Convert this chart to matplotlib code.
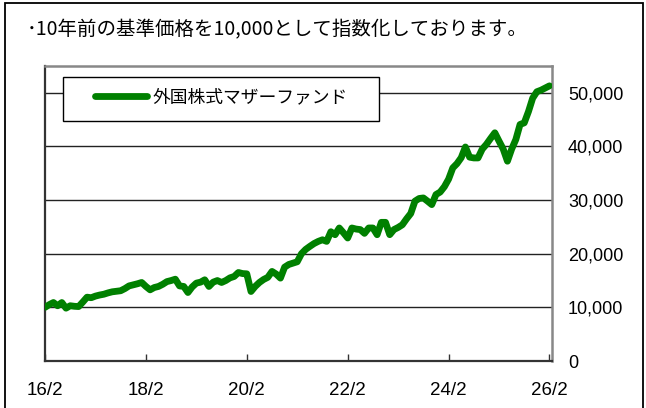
import matplotlib
matplotlib.use("Agg")
import matplotlib.pyplot as plt
from matplotlib.patches import Rectangle
from matplotlib.ticker import FuncFormatter

# ---- data (monthly index, Feb 2016 = month 0) ----
series_name = "外国株式マザーファンド"
title_text = "･10年前の基準価格を10,000として指数化しております。"
values = [
    10000, 10500, 10900, 10300, 10900, 9850, 10300, 10200, 10150, 11000,
    11900, 11800, 12100, 12300, 12450, 12700, 12900, 13000, 13100, 13500,
    14000, 14200, 14400, 14640, 13900, 13270, 13700, 13900, 14300, 14800,
    15000, 15250, 14000, 13900, 12770, 13800, 14520, 14700, 15140, 13900,
    14700, 15000, 14640, 15000, 15500, 15760, 16500, 16300, 16250, 12960,
    13900, 14640, 15200, 15600, 16700, 16200, 15450, 17500, 18000, 18250,
    18500, 20000, 20800, 21370, 21900, 22300, 22600, 22300, 24100, 23550,
    24800, 23900, 22930, 24800, 24600, 24500, 23800, 24800, 24800, 23550,
    25850, 25850, 23550, 24500, 24900, 25400, 26500, 27500, 29800, 30300,
    30400, 29800, 29160, 31030, 31500, 32500, 33900, 36000, 36800, 37900,
    39900, 38000, 37860, 37860, 39500, 40400, 41500, 42550, 41000, 39500,
    37250, 39500, 41300, 44100, 44400, 46500, 49000, 50200, 50500, 50900,
    51300,
]
months = list(range(len(values)))
xtick_pos = [0, 24, 48, 72, 96, 120]
xtick_labels = ["16/2", "18/2", "20/2", "22/2", "24/2", "26/2"]
ytick_pos = [0, 10000, 20000, 30000, 40000, 50000]

W, H = 646, 408
fig = plt.figure(figsize=(W / 100, H / 100), dpi=100)
fig.patch.set_facecolor("white")

# outer frame
frame = Rectangle((5 / W, -0.05), (643 - 5) / W, (408 - 3) / H + 0.05,
                  transform=fig.transFigure, fill=False, edgecolor="black",
                  linewidth=1.3, clip_on=False)
fig.patches.append(frame)

ax_l, ax_r, ax_t, ax_b = 45, 552, 66, 361
ax = fig.add_axes([ax_l / W, (H - ax_b) / H, (ax_r - ax_l) / W, (ax_b - ax_t) / H])

ax.plot(months, values, color="#008000", linewidth=4.9,
        solid_joinstyle="round", solid_capstyle="round", zorder=3,
        label=series_name)

ax.set_xlim(0, 120.6)
ax.set_ylim(0, 55000)

ax.set_xticks(xtick_pos)
ax.set_xticklabels(xtick_labels)
ax.set_yticks(ytick_pos)
ax.yaxis.set_major_formatter(FuncFormatter(lambda v, p: f"{int(v):,}"))
ax.yaxis.tick_right()
ax.tick_params(axis="y", length=0, pad=11.5, labelsize=13)
ax.tick_params(axis="x", direction="in", length=5, width=1, color="#333333",
               pad=15, labelsize=13.5)
for lab in ax.get_xticklabels() + ax.get_yticklabels():
    lab.set_family(["Liberation Sans", "DejaVu Sans"])

ax.grid(axis="y", color="#222222", linewidth=1.0, zorder=1)
ax.set_axisbelow(True)

for s in ["left", "bottom"]:
    ax.spines[s].set_color("#333333")
    ax.spines[s].set_linewidth(1.6)
for s in ["top", "right"]:
    ax.spines[s].set_color("#888888")
    ax.spines[s].set_linewidth(1.8)

# legend frame box
px_w, px_h = ax_r - ax_l, ax_b - ax_t
bx0 = (62.7 - ax_l) / px_w
bx1 = (379 - ax_l) / px_w
by0 = (ax_b - 121) / px_h
by1 = (ax_b - 76.7) / px_h
box = Rectangle((bx0, by0), bx1 - bx0, by1 - by0, transform=ax.transAxes,
                facecolor="white", edgecolor="black", linewidth=1.0, zorder=4)
ax.add_patch(box)

leg = ax.legend(loc="center left",
                bbox_to_anchor=((95 - ax_l) / px_w, (ax_b - 97) / px_h),
                frameon=False, handlelength=2.95, handletextpad=0.3,
                borderpad=0, borderaxespad=0,
                prop={"family": ["Noto Sans CJK JP", "DejaVu Sans"], "size": 12.8})
leg.set_zorder(5)

fig.text(27 / W, (H - 30) / H, title_text, ha="left", va="center",
         fontsize=14, family=["Noto Sans CJK JP", "DejaVu Sans"])

fig.savefig("out.png", dpi=100)
